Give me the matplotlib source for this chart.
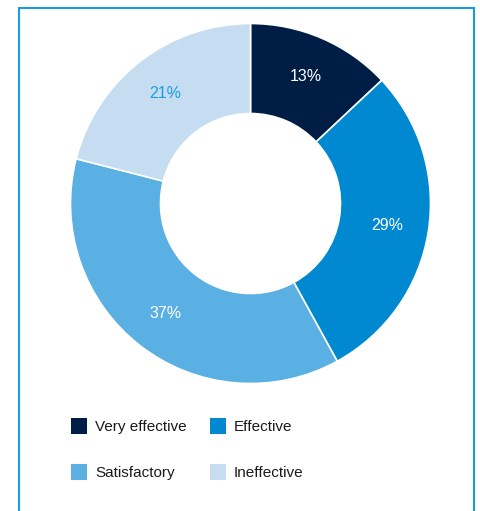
import matplotlib.pyplot as plt
from matplotlib.patches import Rectangle

plt.rcParams['font.family'] = ['Liberation Sans', 'DejaVu Sans']

# Share of ratings, clockwise from 12 o'clock
categories = ["Very effective", "Effective", "Satisfactory", "Ineffective"]
shares = [13, 29, 37, 21]
colors = ["#001e45", "#0088d1", "#5aafe3", "#c6ddf1"]
label_colors = ["white", "white", "white", "#1a9be0"]

W, H = 481, 511
fig = plt.figure(figsize=(W / 100, H / 100), dpi=100)

# light blue frame, open at the bottom
fig.patches.append(Rectangle((18.5 / W, -0.05), (474 - 18.5) / W, 1.05 - 8.5 / H,
                             transform=fig.transFigure, fill=False,
                             edgecolor="#1a9be0", linewidth=1.5))

# donut
cx, cy, r = 250.5, 203.5, 180
ax = fig.add_axes([(cx - r) / W, (H - cy - r) / H, 2 * r / W, 2 * r / H])
wedges, texts = ax.pie(shares, colors=colors, startangle=90, counterclock=False,
                       radius=1, wedgeprops=dict(width=0.5, edgecolor="white", linewidth=1.2),
                       labels=[f"{s}%" for s in shares], labeldistance=0.77)
for t, c in zip(texts, label_colors):
    t.set_color(c)
    t.set_fontsize(11.5)
    t.set_ha("center")
    t.set_va("center")
ax.set_xlim(-1, 1)
ax.set_ylim(-1, 1)
ax.set_aspect("equal")
ax.axis("off")

# legend, two columns
box_x = [71, 210]
box_y = [418, 464]
for i, (name, col) in enumerate(zip(categories, colors)):
    x = box_x[i % 2]
    y = box_y[i // 2]
    fig.patches.append(Rectangle((x / W, (H - y - 16) / H), 16 / W, 16 / H,
                                 transform=fig.transFigure, facecolor=col, edgecolor="none"))
    fig.text((x + 24) / W, (H - y - 8.5) / H, name, fontsize=11, color="#1a1a1a",
             ha="left", va="center")

fig.savefig("out.png", dpi=100)
